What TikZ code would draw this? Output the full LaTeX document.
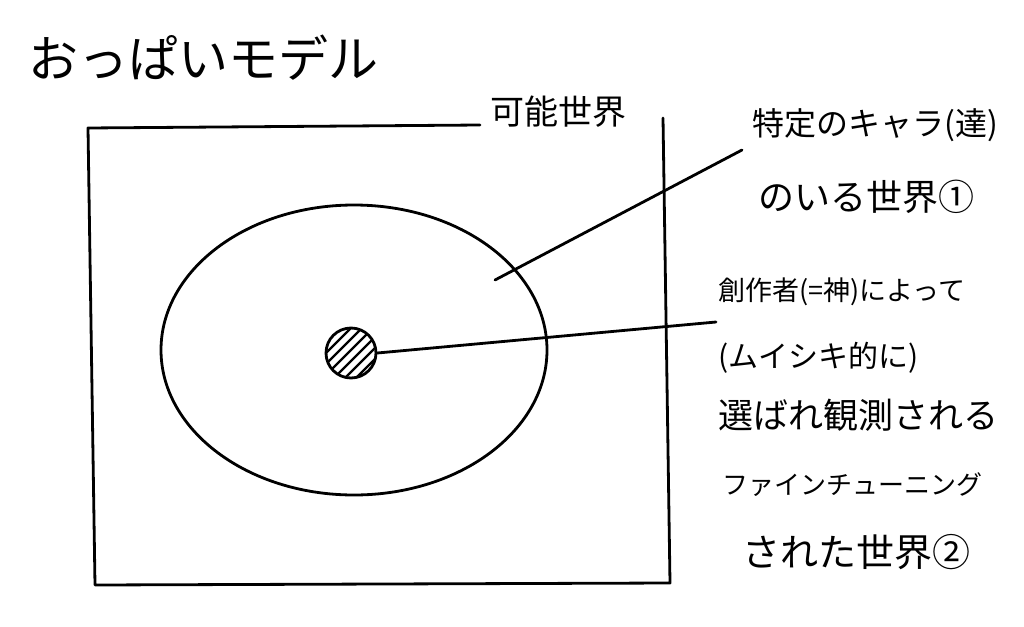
\documentclass[tikz,border=0pt]{standalone}
\usepackage{fontspec}
\usetikzlibrary{shapes.geometric,calc}
\newfontfamily\jp{Noto Sans CJK JP}
\begin{document}
\begin{tikzpicture}[x=1pt,y=-1pt,
  ink/.style={line width=2.8pt,line cap=round,line join=round,black},
  lbl/.style={anchor=west,inner sep=0pt,font=\jp}]
\useasboundingbox (0,0) rectangle (1024,626);
% title
\node[lbl,font=\jp\fontsize{50}{52}\selectfont] (title) at (28,58) {おっぱいモデル};
% possible worlds frame
\node[lbl,font=\jp\fontsize{34}{36}\selectfont] (pw) at (490,112) {可能世界};
\coordinate (f1) at (480,125);
\coordinate (f2) at (88,128);
\coordinate (f3) at (95,585);
\coordinate (f4) at (670,583);
\coordinate (f5) at (663,118);
\draw[ink] (f1) -- (f2) -- (f3) -- (f4) -- (f5);
% world 1 ellipse
\node[draw,ink,ellipse,minimum width=386pt,minimum height=290pt,inner sep=0pt] (w1) at (354,350) {};
\coordinate (p1) at (495,280);
% world 2 hatched circle
\node[draw,ink,circle,minimum size=50pt,inner sep=0pt] (w2) at (351,353) {};
\begin{scope}
\clip (w2.center) circle (24pt);
\foreach \d in {-36,-25,...,36} {
  \draw[line width=2.2pt] ($(w2.center)+(\d-30,30)$) -- ($(w2.center)+(\d+30,-30)$);
}
\end{scope}
% labels
\node[lbl,font=\jp\fontsize{32}{34}\selectfont] (t1) at (752,125) {特定のキャラ(達)};
\node[lbl,font=\jp\fontsize{36}{38}\selectfont] (t2) at (758,197) {のいる世界①};
\node[lbl,font=\jp\fontsize{27}{29}\selectfont] (t3) at (718,292) {創作者(=神)によって};
\node[lbl,font=\jp\fontsize{30}{32}\selectfont] (t4) at (718,358) {(ムイシキ的に)};
\node[lbl,font=\jp\fontsize{35}{37}\selectfont] (t5) at (718,415) {選ばれ観測される};
\node[lbl,font=\jp\fontsize{26}{28}\selectfont] (t6) at (722,485) {ファインチューニング};
\node[lbl,font=\jp\fontsize{38}{40}\selectfont] (t7) at (742,552) {された世界②};
% connectors
\coordinate (c1) at (742,150);
\coordinate (c2) at (716,322);
\draw[ink] (p1) -- (c1);
\draw[ink] (w2.east) -- (c2);
\end{tikzpicture}
\end{document}
